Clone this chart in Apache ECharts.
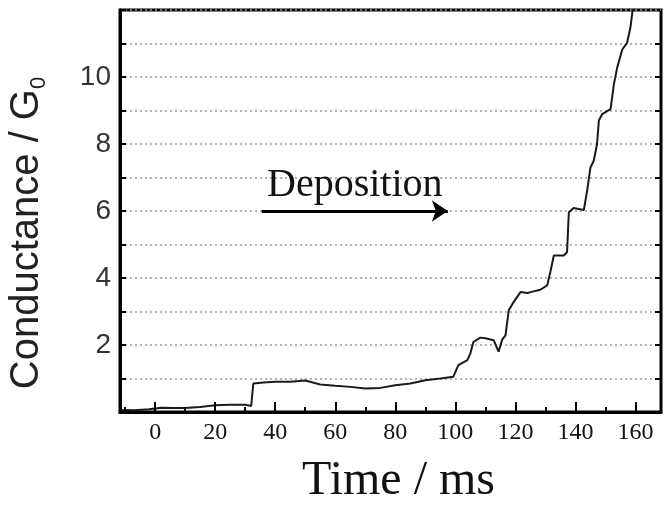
<!DOCTYPE html>
<html>
<head>
<meta charset="utf-8">
<script src="https://cdn.jsdelivr.net/npm/echarts@6/dist/echarts.min.js"></script>
<style>
  html, body { margin: 0; padding: 0; background: #fff; }
  #main { width: 665px; height: 505px; }
</style>
</head>
<body>
<div id="main"></div>
<script>
'use strict'
// time (ms) and conductance (G0)
var times = [-11, -7, -2, 2, 6, 10, 15, 20, 25, 30, 32, 32.7, 36, 40, 45, 50, 55, 60, 65, 70,
    75, 80, 85, 90, 95, 99.3, 101, 104, 105, 106, 108.3, 110, 112.8, 114.4, 115.6, 116.7, 117.8,
    119.4, 121.7, 124, 126, 128.3, 130.6, 131.7, 132.8, 136.1, 137.2, 137.8, 139.4, 142.8, 143.9,
    145, 146.1, 147.2, 147.8, 148.9, 151.7, 152.8, 153.9, 155.6, 157.2, 158.3, 159.2]
var conductance = [0.06, 0.05, 0.08, 0.13, 0.12, 0.12, 0.15, 0.2, 0.22, 0.22, 0.18, 0.85, 0.88, 0.9, 0.9, 0.94, 0.82, 0.78, 0.75, 0.7,
    0.72, 0.8, 0.85, 0.95, 1.0, 1.05, 1.4, 1.55, 1.75, 2.09, 2.22, 2.2, 2.14, 1.8, 2.16, 2.29, 3.04,
    3.28, 3.58, 3.55, 3.6, 3.65, 3.78, 4.2, 4.67, 4.67, 4.77, 5.96, 6.09, 6.03, 6.61,
    7.3, 7.5, 8.0, 8.7, 8.89, 9.04, 9.78, 10.28, 10.82, 11.02, 11.47, 12.1]

var xMajorTicks = [0, 20, 40, 60, 80, 100, 120, 140, 160]
var xMinorTicks = [-10, 10, 30, 50, 70, 90, 110, 130, 150]
var yTicks = [1, 2, 3, 4, 5, 6, 7, 8, 9, 10, 11]
var yTickLabels = [2, 4, 6, 8, 10]

// arrow "Deposition": start / end time at G = 6
var arrowStart = [35.5, 6]
var arrowEnd = [97.5, 6]

var xMin = -11.7, xMax = 168.5

var points = []
for (var i = 0; i < times.length; i++) {
    points.push([times[i], conductance[i]])
}

// short inward tick segments along the frame, from the tick lists
var tickSegs = []
xMajorTicks.forEach(function (t) { tickSegs.push([{ coord: [t, 0] }, { coord: [t, 0.3] }]) })
xMinorTicks.forEach(function (t) { tickSegs.push([{ coord: [t, 0] }, { coord: [t, 0.15] }]) })
yTicks.forEach(function (v) {
    tickSegs.push([{ coord: [xMin, v] }, { coord: [xMin + 2, v] }])
    tickSegs.push([{ coord: [xMax - 2, v] }, { coord: [xMax, v] }])
})

var myChart = echarts.init(document.getElementById('main'))

var option = {
    animation: false,
    grid: {
        left: 120, right: 4, top: 10, bottom: 93,
        outerBoundsMode: 'none',
        show: true, borderColor: '#000', borderWidth: 3
    },
    xAxis: [
        {
            type: 'value', min: xMin, max: xMax,
            position: 'bottom',
            name: 'Time / ms', nameLocation: 'middle', nameGap: 45,
            nameTextStyle: { fontFamily: 'Liberation Serif', fontSize: 48, color: '#111', padding: [0, 0, 0, 16] },
            axisLine: { show: true, lineStyle: { color: '#000', width: 3 } },
            axisTick: { show: true, inside: true, length: 10, customValues: xMajorTicks,
                lineStyle: { color: '#000', width: 2 } },
            axisLabel: { show: true, customValues: xMajorTicks, margin: 9,
                fontFamily: 'Liberation Serif', fontSize: 24, color: '#111' },
            splitLine: { show: false }
        }
    ],
    yAxis: [
        {
            type: 'value', min: 0, max: 12, interval: 1,
            position: 'left',
            name: '{a|Conductance / G}{s|0}', nameLocation: 'middle', nameGap: 70,
            nameTextStyle: {
                padding: [0, 44, 0, 0],
                rich: {
                    a: { fontFamily: 'Liberation Sans', fontSize: 40, color: '#222', lineHeight: 46 },
                    s: { fontFamily: 'Liberation Sans', fontSize: 22, color: '#222', lineHeight: 22, verticalAlign: 'bottom' }
                }
            },
            axisLine: { show: true, onZero: false, lineStyle: { color: '#000', width: 3 } },
            axisTick: { show: true, inside: true, length: 6, lineStyle: { color: '#000', width: 2 } },
            axisLabel: { show: true, customValues: yTickLabels, margin: 9,
                fontFamily: 'Liberation Sans', fontSize: 28, color: '#333' },
            splitLine: { show: true, lineStyle: { color: '#999', width: 1.5, type: [2, 3] } }
        }
    ],
    series: [
        {
            name: 'conductance',
            type: 'line',
            data: points,
            symbol: 'none',
            z: 3,
            lineStyle: { color: '#1a1a1a', width: 2 },
            markLine: {
                silent: true,
                symbol: ['none', 'arrow'],
                symbolSize: 16,
                lineStyle: { color: '#000', width: 3, type: 'solid' },
                label: {
                    show: true, position: 'middle', formatter: 'Deposition', distance: 6,
                    fontFamily: 'Liberation Serif', fontSize: 40, color: '#111'
                },
                data: [[{ coord: arrowStart }, { coord: arrowEnd }]]
            }
        },
        {
            name: 'ticks',
            type: 'line',
            data: [],
            markLine: {
                silent: true,
                symbol: ['none', 'none'],
                lineStyle: { color: '#000', width: 2, type: 'solid' },
                label: { show: false },
                data: tickSegs
            }
        }
    ]
}
myChart.setOption(option)
</script>
</body>
</html>
